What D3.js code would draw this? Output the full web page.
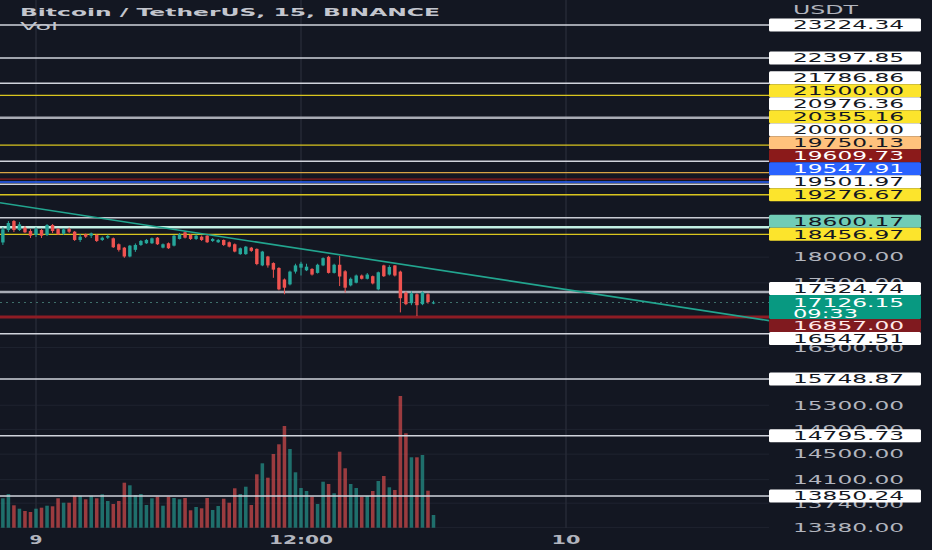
<!DOCTYPE html>
<html>
<head>
<meta charset="utf-8">
<script src="https://cdn.jsdelivr.net/npm/d3@7"></script>
<style>
html,body{margin:0;padding:0;background:#131722;}
svg{display:block;}
text{font-family:"DejaVu Sans",sans-serif;}
</style>
</head>
<body>
<div id="chart"></div>
<script>
const width=932;
const height=550;
const plot={left:0,right:769,top:0,bottom:528};

// BTCUSDT 15 min candles, first bar 8 Dec 2022 22:30
const firstBar=new Date(2022,11,8,22,30);
const opens=[18293,18544,18728,18544,18591,18524,18443,18544,18443,18646,
  18564,18469,18564,18510,18343,18457,18429,18443,18343,18389,
  18377,18257,18189,18013,18145,18243,18277,18277,18389,18189,
  18277,18229,18363,18498,18443,18363,18409,18429,18323,18297,
  18343,18297,18257,18060,18060,18189,18164,17838,18013,17884,
  17788,17565,17470,17717,17794,17742,17769,17692,17838,18007,
  17692,17851,17723,17451,17502,17641,17578,17628,17375,17838,
  17660,17838,17717,17313,17113,17282,17095,17282,17110];
const highs=[18605,18728,18748,18707,18626,18564,18605,18564,18666,18666,
  18585,18585,18595,18524,18463,18473,18493,18463,18413,18453,
  18393,18273,18203,18243,18273,18343,18363,18393,18403,18273,
  18293,18443,18483,18524,18463,18453,18433,18443,18383,18363,
  18353,18313,18273,18193,18223,18203,18174,18125,18026,17899,
  17803,17584,17736,17871,17909,17871,17784,17871,17997,18026,
  17871,18026,17746,17603,17660,17660,17689,17641,17717,17851,
  17842,17842,17736,17338,17338,17300,17338,17300,17160];
const lows=[18243,18504,18504,18524,18483,18383,18403,18383,18423,18483,
  18443,18443,18483,18323,18303,18383,18383,18303,18323,18363,
  18183,18111,17987,17997,18105,18223,18263,18263,18243,18174,
  18164,18213,18353,18373,18343,18343,18323,18283,18303,18283,
  18223,18193,18096,18046,18046,18105,17842,17823,17794,17597,
  17357,17282,17451,17679,17641,17727,17641,17679,17823,17679,
  17679,17438,17313,17432,17489,17565,17565,17470,17357,17612,
  17641,17622,16941,17076,17076,16873,17076,17104,17095];
const closes=[18558,18687,18544,18660,18498,18429,18564,18429,18646,18524,
  18457,18558,18510,18343,18409,18409,18477,18323,18389,18423,
  18197,18145,18013,18229,18243,18323,18343,18377,18257,18257,
  18177,18429,18457,18389,18363,18429,18343,18297,18363,18343,
  18243,18209,18111,18177,18209,18125,17865,18111,17838,17755,
  17375,17407,17717,17838,17871,17813,17660,17851,17981,17692,
  17851,17622,17407,17578,17641,17578,17660,17489,17704,17628,
  17807,17641,17207,17095,17300,17076,17319,17135,17126.15];
const volumes=[1176,1348,896,760,668,628,760,800,880,856,
  1176,1000,1000,1280,1280,1136,1280,1176,1336,1068,
  948,1068,1800,1696,1308,1348,908,1176,1240,880,
  1240,1188,1136,1188,696,828,776,1188,708,868,
  1160,1000,1576,1348,1640,908,2136,2576,2000,2948,
  3336,4068,3148,2216,1588,1468,1240,948,1840,1748,
  1376,3040,2376,1748,1588,1240,1268,1468,1868,2068,
  1616,1508,5268,3776,2816,2816,2908,1480,508];

// horizontal levels drawn on the chart
const levelPrices=[23224.34,22397.85,21786.86,21500.00,20976.36,20355.16,20000.00,19750.13,19609.73,19547.91,
  19501.97,19276.67,18600.17,18456.97,17324.74,16857.00,16547.51,15748.87,14795.73,13850.24];
const levelKinds=["white","white","white","yellow","grey","yellow","white","orange","maroon","blue",
  "white","yellow","mint","yellow","grey","red","white","white","white","white"];
const unlabeledLevels=[18795];

// trend line anchors
const trendTimes=[new Date(2022,11,8,22,30),new Date(2022,11,10,8,45)];
const trendPrices=[19100,16817];

const priceTicks=[18000,17500,16300,15300,14900,14500,14100,13740,13380];
const timeTicks=[new Date(2022,11,9,0,0),new Date(2022,11,9,12,0),new Date(2022,11,10,0,0)];
const countdown="09:33";

const kindStyle={
  white:{line:"#d1d4dc",w:1.5,box:"#ffffff",txt:"#131722"},
  grey:{line:"#a9acb5",w:2.5,box:"#ffffff",txt:"#131722"},
  yellow:{line:"#d9c51f",w:1.3,box:"#fce42c",txt:"#131722"},
  orange:{line:"#d8a445",w:1.3,box:"#ffc27d",txt:"#131722"},
  maroon:{line:"#8b1a1a",w:1.3,box:"#8b1a1a",txt:"#ffffff"},
  blue:{line:"#2962ff",w:1.3,box:"#2962ff",txt:"#ffffff"},
  mint:{line:"#c2efe3",w:2.5,box:"#70ccb6",txt:"#131722"},
  red:{line:"#8e1c24",w:3,box:"#801a1f",txt:"#ffe9e9"}
};
const upColor="#26a69a", downColor="#ef5350";

const candles=opens.map((o,i)=>({
  t:d3.timeMinute.offset(firstBar,15*i),o:o,h:highs[i],l:lows[i],c:closes[i],v:volumes[i]
}));

const svg=d3.select("#chart").append("svg")
  .attr("width",width).attr("height",height)
  .style("background","#131722");

const x=d3.scaleTime()
  .domain([new Date(2022,11,9,0,0),new Date(2022,11,10,0,0)])
  .range([36,566]);
const y=d3.scaleLog()
  .domain([23224.34,13380])
  .range([25,527.4]);
const yVol=d3.scaleLinear()
  .domain([0,6000])
  .range([527.7,377.7]);
const barStep=x(d3.timeMinute.offset(firstBar,15))-x(firstBar);

// grid
svg.append("g").selectAll("line").data(priceTicks).enter().append("line")
  .attr("x1",plot.left).attr("x2",plot.right)
  .attr("y1",d=>y(d)).attr("y2",d=>y(d))
  .attr("stroke","#1f2330").attr("stroke-width",1);
svg.append("g").selectAll("line").data(timeTicks).enter().append("line")
  .attr("x1",d=>x(d)).attr("x2",d=>x(d))
  .attr("y1",plot.top).attr("y2",plot.bottom)
  .attr("stroke","#262a36").attr("stroke-width",1.5);

// volume
svg.append("g").selectAll("rect").data(candles).enter().append("rect")
  .attr("x",d=>x(d.t)-barStep*0.32)
  .attr("width",barStep*0.64)
  .attr("y",d=>yVol(d.v))
  .attr("height",d=>yVol(0)-yVol(d.v))
  .attr("fill",d=>d.c>=d.o?upColor:downColor)
  .attr("opacity",0.62);

// levels
const levels=levelPrices.map((p,i)=>({price:p,st:kindStyle[levelKinds[i]]}));
svg.append("g").selectAll("line").data(unlabeledLevels).enter().append("line")
  .attr("x1",plot.left).attr("x2",plot.right)
  .attr("y1",d=>y(d)).attr("y2",d=>y(d))
  .attr("stroke","#c9ccd4").attr("stroke-width",1.5);
svg.append("g").selectAll("line").data(levels).enter().append("line")
  .attr("x1",plot.left).attr("x2",plot.right)
  .attr("y1",d=>y(d.price)).attr("y2",d=>y(d.price))
  .attr("stroke",d=>d.st.line).attr("stroke-width",d=>d.st.w);

// current price dotted line
const last=candles[candles.length-1];
svg.append("line")
  .attr("x1",plot.left).attr("x2",plot.right)
  .attr("y1",y(last.c)).attr("y2",y(last.c))
  .attr("stroke","#3f6f6a").attr("stroke-width",1)
  .attr("stroke-dasharray","2,4");

// candles
const cg=svg.append("g").selectAll("g").data(candles).enter().append("g");
cg.append("line")
  .attr("x1",d=>x(d.t)).attr("x2",d=>x(d.t))
  .attr("y1",d=>y(d.h)).attr("y2",d=>y(d.l))
  .attr("stroke",d=>d.c>=d.o?upColor:downColor).attr("stroke-width",1);
cg.append("rect")
  .attr("x",d=>x(d.t)-barStep*0.31)
  .attr("width",barStep*0.62)
  .attr("y",d=>y(Math.max(d.o,d.c)))
  .attr("height",d=>Math.max(1,y(Math.min(d.o,d.c))-y(Math.max(d.o,d.c))))
  .attr("fill",d=>d.c>=d.o?upColor:downColor);

// trend line, extended to the plot edges
const p0=[x(trendTimes[0]),y(trendPrices[0])];
const p1=[x(trendTimes[1]),y(trendPrices[1])];
const slope=(p1[1]-p0[1])/(p1[0]-p0[0]);
svg.append("line")
  .attr("x1",plot.left).attr("y1",p0[1]+(plot.left-p0[0])*slope)
  .attr("x2",plot.right).attr("y2",p0[1]+(plot.right-p0[0])*slope)
  .attr("stroke","#22a58f").attr("stroke-width",1.6);

// title
svg.append("text").attr("x",20).attr("y",16)
  .attr("font-size",11).attr("font-weight","bold").attr("fill","#c3c6ce")
  .attr("textLength",420).attr("lengthAdjust","spacingAndGlyphs")
  .text("Bitcoin / TetherUS, 15, BINANCE");
svg.append("text").attr("x",20).attr("y",29.5)
  .attr("font-size",11).attr("fill","#c3c6ce")
  .attr("textLength",38).attr("lengthAdjust","spacingAndGlyphs")
  .text("Vol");

// price axis
const fmt=d3.format(".2f");
const labelX=793, labelW=111, boxH=13;
svg.append("text").attr("x",labelX).attr("y",9.5).attr("dy","0.36em")
  .attr("font-size",12).attr("fill","#b2b5be")
  .attr("textLength",65).attr("lengthAdjust","spacingAndGlyphs")
  .text("USDT");
svg.append("g").selectAll("text").data(priceTicks).enter().append("text")
  .attr("x",labelX).attr("y",d=>y(d)).attr("dy","0.36em")
  .attr("font-size",12).attr("fill","#b2b5be")
  .attr("textLength",labelW).attr("lengthAdjust","spacingAndGlyphs")
  .text(d=>fmt(d));

// stack labels away from the current price label
const curY=y(last.c);
const curTop=curY-7.4, curBot=curY+16.4;
const above=levels.filter(d=>d.price>last.c).sort((a,b)=>a.price-b.price);
let edge=curTop;
above.forEach(d=>{d.cy=Math.min(y(d.price),edge-boxH/2);edge=d.cy-boxH/2;});
const below=levels.filter(d=>d.price<last.c).sort((a,b)=>b.price-a.price);
edge=curBot;
below.forEach(d=>{d.cy=Math.max(y(d.price),edge+boxH/2);edge=d.cy+boxH/2;});

const lab=svg.append("g").selectAll("g").data(levels).enter().append("g")
  .attr("transform",d=>`translate(0,${d.cy})`);
lab.append("rect").attr("x",plot.right).attr("y",-boxH/2)
  .attr("width",152).attr("height",boxH).attr("rx",1.5)
  .attr("fill",d=>d.st.box);
lab.append("text").attr("x",labelX).attr("y",0).attr("dy","0.36em")
  .attr("font-size",12).attr("fill",d=>d.st.txt)
  .attr("textLength",labelW).attr("lengthAdjust","spacingAndGlyphs")
  .text(d=>fmt(d.price));

const cur=svg.append("g");
cur.append("rect").attr("x",plot.right).attr("y",curTop)
  .attr("width",152).attr("height",curBot-curTop).attr("rx",1.5)
  .attr("fill","#089981");
cur.append("text").attr("x",labelX).attr("y",curY).attr("dy","0.36em")
  .attr("font-size",12).attr("fill","#ffffff")
  .attr("textLength",labelW).attr("lengthAdjust","spacingAndGlyphs")
  .text(fmt(last.c));
cur.append("text").attr("x",labelX).attr("y",curY+11).attr("dy","0.36em")
  .attr("font-size",12).attr("fill","#ffffff")
  .attr("textLength",65).attr("lengthAdjust","spacingAndGlyphs")
  .text(countdown);

// time axis
const tfmt=d=>d.getHours()===0&&d.getMinutes()===0?d3.timeFormat("%-d")(d):d3.timeFormat("%H:%M")(d);
svg.append("g").selectAll("text").data(timeTicks).enter().append("text")
  .attr("x",d=>x(d)).attr("y",539.5).attr("dy","0.36em")
  .attr("text-anchor","middle")
  .attr("font-size",11.5).attr("font-weight","bold").attr("fill","#b2b5be")
  .attr("textLength",d=>tfmt(d).length===1?13:(tfmt(d).length===2?29:64))
  .attr("lengthAdjust","spacingAndGlyphs")
  .text(tfmt);
</script>
</body>
</html>
